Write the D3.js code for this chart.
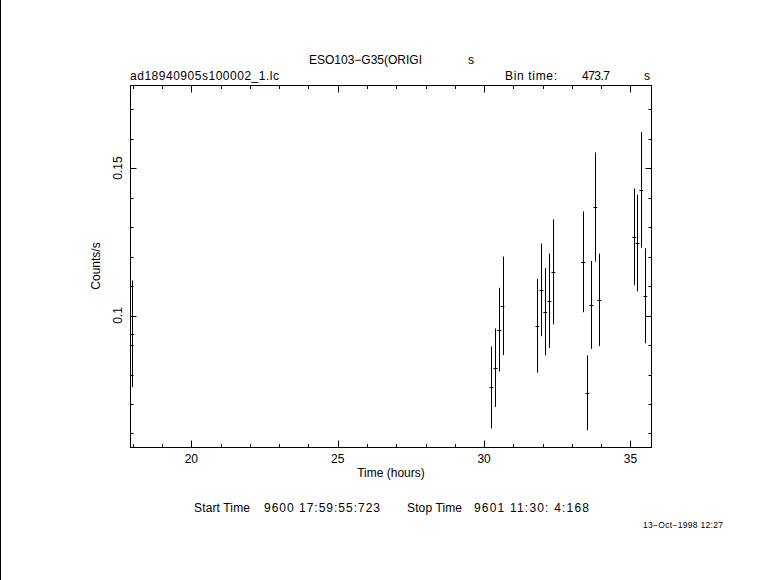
<!DOCTYPE html>
<html>
<head>
<meta charset="utf-8">
<script src="https://cdn.jsdelivr.net/npm/d3@7"></script>
<style>
  html, body { margin: 0; padding: 0; background: #fff; }
  svg text { font-family: "Liberation Sans", "DejaVu Sans", sans-serif; fill: #000; }
</style>
</head>
<body>
<svg id="chart" width="781" height="580"></svg>
<script>
// ---- data ----
const timeHours = [17.98, 30.25, 30.39, 30.52, 30.63, 31.82, 31.96, 32.09, 32.23, 32.37,
                   33.39, 33.53, 33.67, 33.80, 33.94, 35.13, 35.24, 35.37, 35.51];
const countRate = [0.0938, 0.0756, 0.0823, 0.0952, 0.1033, 0.0965, 0.1087, 0.1013, 0.1050, 0.1148,
                   0.1182, 0.0738, 0.1036, 0.1368, 0.1053, 0.1267, 0.1246, 0.1426, 0.1067];
const rateError = [0.0181, 0.0139, 0.0133, 0.0142, 0.0167, 0.0159, 0.0157, 0.0148, 0.0160, 0.0178,
                   0.0171, 0.0127, 0.0149, 0.0185, 0.0157, 0.0164, 0.0164, 0.0196, 0.0161];
const binHalfWidth = 0.0658; // hours (473.7 s / 2)
const xMajorTicks = [20, 25, 30, 35];
const xMinorTicks = [18, 19, 21, 22, 23, 24, 26, 27, 28, 29, 31, 32, 33, 34];
const yMajorTicks = [0.1, 0.15];
const yTickLabels = ["0.1", "0.15"];
const yMinorTicks = [0.06, 0.07, 0.08, 0.09, 0.11, 0.12, 0.13, 0.14, 0.16, 0.17];
const xDomain = [17.92, 35.72];
const yDomain = [0.05525, 0.178];

// ---- layout ----
const svg = d3.select("#chart");
const L = 130.5, R = 651.5, T = 85.5, B = 447.5;
const x = d3.scaleLinear().domain(xDomain).range([L, R]);
const y = d3.scaleLinear().domain(yDomain).range([B, T]);

// left border line of the page
svg.append("line").attr("x1", 0.5).attr("x2", 0.5).attr("y1", 0).attr("y2", 580)
  .attr("stroke", "#000").attr("stroke-width", 1);

// frame
svg.append("rect").attr("x", L).attr("y", T).attr("width", R - L).attr("height", B - T)
  .attr("fill", "none").attr("stroke", "#000").attr("stroke-width", 1);

const g = svg.append("g").attr("stroke", "#000").attr("stroke-width", 1).attr("fill", "none");
// x ticks (bottom & top, inward)
xMajorTicks.forEach(v => {
  const px = Math.round(x(v)) + 0.5;
  g.append("line").attr("x1", px).attr("x2", px).attr("y1", B).attr("y2", B - 7);
  g.append("line").attr("x1", px).attr("x2", px).attr("y1", T).attr("y2", T + 7);
});
xMinorTicks.forEach(v => {
  const px = Math.round(x(v)) + 0.5;
  g.append("line").attr("x1", px).attr("x2", px).attr("y1", B).attr("y2", B - 3.5);
  g.append("line").attr("x1", px).attr("x2", px).attr("y1", T).attr("y2", T + 3.5);
});
// y ticks (left & right, inward)
yMajorTicks.forEach(v => {
  const py = Math.round(y(v)) + 0.5;
  g.append("line").attr("x1", L).attr("x2", L + 6).attr("y1", py).attr("y2", py);
  g.append("line").attr("x1", R).attr("x2", R - 6).attr("y1", py).attr("y2", py);
});
yMinorTicks.forEach(v => {
  const py = Math.round(y(v)) + 0.5;
  g.append("line").attr("x1", L).attr("x2", L + 3).attr("y1", py).attr("y2", py);
  g.append("line").attr("x1", R).attr("x2", R - 3).attr("y1", py).attr("y2", py);
});

// tick labels
xMajorTicks.forEach(v => {
  svg.append("text").attr("x", x(v)).attr("y", 463).attr("text-anchor", "middle")
    .attr("font-size", 12).text(String(v));
});
yMajorTicks.forEach((v, i) => {
  svg.append("text").attr("transform", `translate(122,${y(v)}) rotate(-90)`)
    .attr("text-anchor", "middle").attr("font-size", 12).text(yTickLabels[i]);
});

// axis titles
svg.append("text").attr("x", 391).attr("y", 477).attr("text-anchor", "middle")
  .attr("font-size", 12).text("Time (hours)");
svg.append("text").attr("transform", "translate(100,266) rotate(-90)")
  .attr("text-anchor", "middle").attr("font-size", 12).text("Counts/s");

function label(txt, px, py, size, len) {
  const t = svg.append("text").attr("x", px).attr("y", py).attr("font-size", size).text(txt);
  if (len) t.attr("textLength", len).attr("lengthAdjust", "spacing");
  return t;
}
// header texts
label("ESO103\u2212G35(ORIGI", 309, 64, 12, 113);
label("s", 468, 64, 12);
label("ad18940905s100002_1.lc", 130, 80, 12, 149);
label("Bin time:", 505, 80, 12, 52);
label("473.7", 582, 80, 12, 28);
label("s", 644, 80, 12);

// footer
label("Start Time", 194, 512, 12, 56);
label("9600 17:59:55:723", 264, 512, 12, 116);
label("Stop Time", 407, 512, 12, 55);
label("9601 11:30: 4:168", 474, 512, 12, 115);
label("13\u2212Oct\u22121998 12:27", 643, 528, 8.5, 80);

// data: error bars with bin-width horizontal marks
const pts = timeHours.map((t, i) => ({ t, v: countRate[i], e: rateError[i] }));
const dg = svg.append("g").attr("stroke", "#000").attr("stroke-width", 1);
dg.selectAll("line.ey").data(pts).join("line").attr("class", "ey")
  .attr("x1", d => Math.round(x(d.t)) + 0.5).attr("x2", d => Math.round(x(d.t)) + 0.5)
  .attr("y1", d => y(d.v - d.e)).attr("y2", d => y(d.v + d.e));
dg.selectAll("line.ex").data(pts).join("line").attr("class", "ex")
  .attr("x1", d => x(Math.max(d.t - binHalfWidth, xDomain[0]))).attr("x2", d => x(d.t + binHalfWidth))
  .attr("y1", d => Math.round(y(d.v)) + 0.5).attr("y2", d => Math.round(y(d.v)) + 0.5);
</script>
</body>
</html>
